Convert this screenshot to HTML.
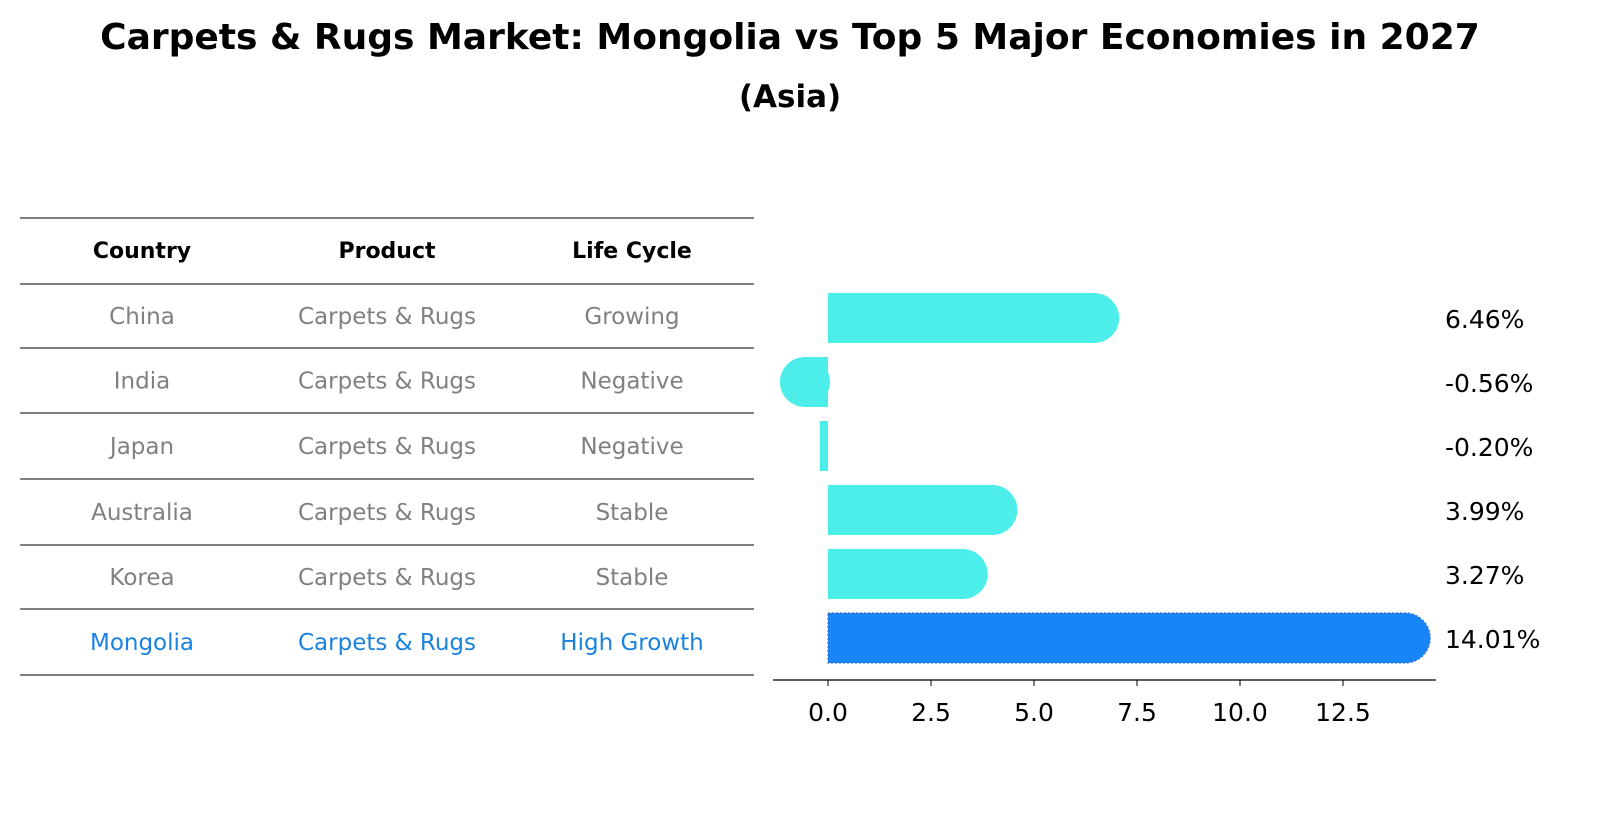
<!DOCTYPE html>
<html><head><meta charset="utf-8"><style>
body{margin:0;background:#fff;font-family:"Liberation Sans","DejaVu Sans",sans-serif}
</style></head><body>
<svg width="1604" height="823" xmlns="http://www.w3.org/2000/svg" font-family="DejaVu Sans, Liberation Sans, sans-serif">
<rect width="1604" height="823" fill="#fff"/>
<text x="790" y="49" text-anchor="middle" font-size="36" font-weight="bold">Carpets &amp; Rugs Market: Mongolia vs Top 5 Major Economies in 2027</text>
<text x="790" y="107" text-anchor="middle" font-size="31" font-weight="bold">(Asia)</text>
<g id="table"></g>
<g id="bars"></g>
</svg>
<script>
const countries=["China","India","Japan","Australia","Korea","Mongolia"];
const products=["Carpets & Rugs","Carpets & Rugs","Carpets & Rugs","Carpets & Rugs","Carpets & Rugs","Carpets & Rugs"];
const lifeCycles=["Growing","Negative","Negative","Stable","Stable","High Growth"];
const growth=[6.46,-0.56,-0.20,3.99,3.27,14.01];
const xTicks=[0,2.5,5,7.5,10,12.5];
const xTickLabels=["0.0","2.5","5.0","7.5","10.0","12.5"];
const NS="http://www.w3.org/2000/svg";
function mk(t,a,p){const e=document.createElementNS(NS,t);for(const k in a)e.setAttribute(k,a[k]);p.appendChild(e);return e;}
const tbl=document.getElementById('table');
const lineYs=[218,284,348,413,479,545,609,675];
lineYs.forEach(y=>{const l=mk('line',{x1:20,x2:754,y1:y,y2:y,stroke:'#000','stroke-width':1},tbl);

});
const colX=[142,387,632];
["Country","Product","Life Cycle"].forEach((h,i)=>{const t=mk('text',{x:colX[i],y:258,'text-anchor':'middle','font-size':22,'font-weight':'bold'},tbl);t.textContent=h;

});
countries.forEach((c,r)=>{const y=(lineYs[r+1]+lineYs[r+2])/2+8;const col=r===countries.length-1?'#1a82e0':'#808080';
[c,products[r],lifeCycles[r]].forEach((v,i)=>{const t=mk('text',{x:colX[i],y:y,'text-anchor':'middle','font-size':23,fill:col},tbl);t.textContent=v;

});});
const g=document.getElementById('bars');
const x0=828,sc=41.2;const X=v=>x0+v*sc;
const bandTop=293,bandStep=64,bh=50,rad=25;
mk('line',{x1:773,x2:1436,y1:680,y2:680,stroke:'#000','stroke-width':1.2},g);
xTicks.forEach((v,i)=>{const tk=mk('line',{x1:X(v),x2:X(v),y1:680,y2:686,stroke:'#000'},g);


const t=mk('text',{x:X(v),y:721,'text-anchor':'middle','font-size':25},g);t.textContent=xTickLabels[i];

});
growth.forEach((v,i)=>{const cy=bandTop+bandStep*i+bh/2;const last=i===growth.length-1;const col=last?'#1785f5':'#4deeea';
const xe=X(v);const xa=Math.min(x0,xe),w=Math.abs(xe-x0);
const grp=mk('g',{},g);


mk('rect',{x:xa,y:cy-bh/2,width:w,height:bh,fill:col},grp);
if(w>15)mk('circle',{cx:xe,cy:cy,r:rad,fill:col},grp);
if(last)mk('path',{d:`M${x0} ${cy-bh/2}H${xe}A${rad} ${rad} 0 0 1 ${xe} ${cy+bh/2}H${x0}Z`,fill:'none',stroke:'#3a6fd0','stroke-width':1.2,'stroke-dasharray':'2,2'},grp);
const t=mk('text',{x:1445,y:cy+10,'font-size':25},g);t.textContent=v.toFixed(2)+'%';

});
</script>
</body></html>
